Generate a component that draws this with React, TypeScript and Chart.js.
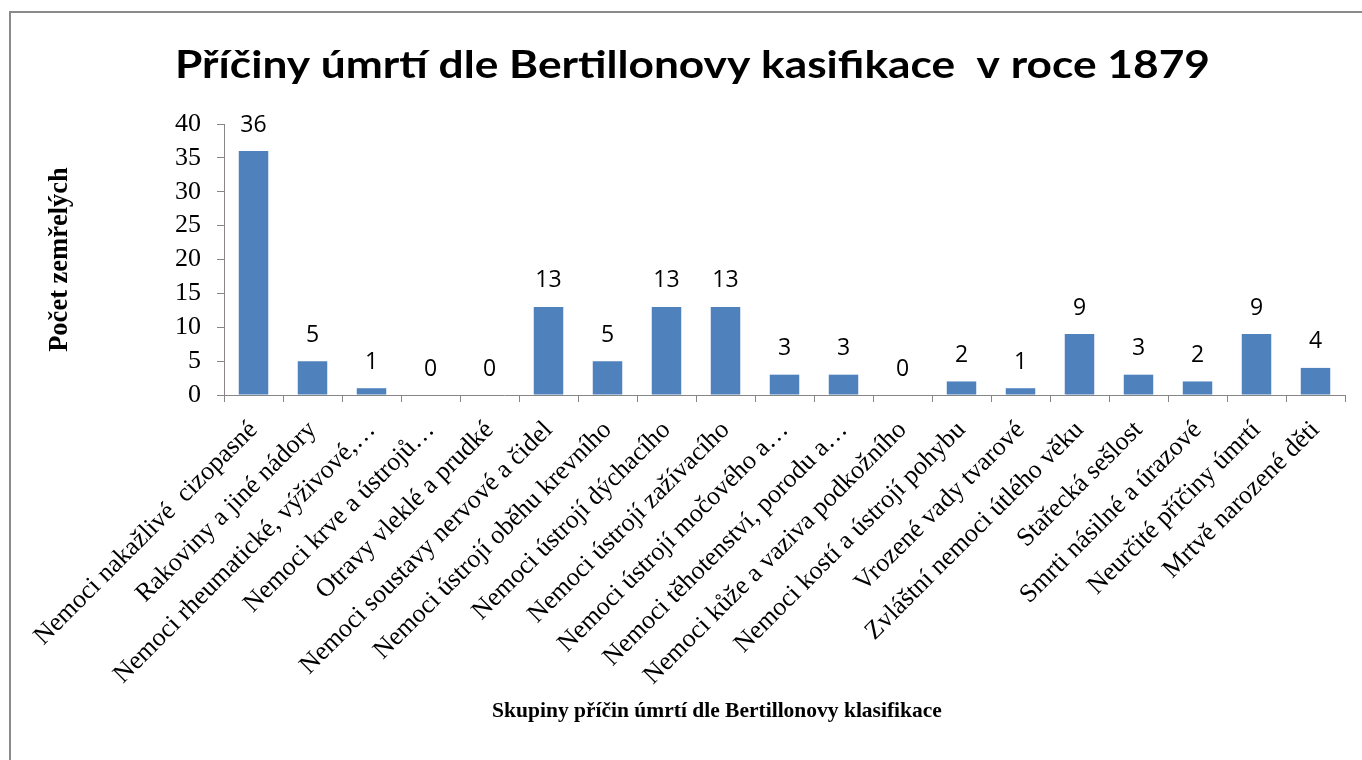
import React, { useEffect, useRef } from "react";
import { Chart, registerables } from "chart.js";

Chart.register(...registerables);

const chartTitle = "Příčiny úmrtí dle Bertillonovy kasifikace  v roce 1879";
const yAxisTitle = "Počet zemřelých";
const xAxisTitle = "Skupiny příčin úmrtí dle Bertillonovy klasifikace";

const categories = [
  "Nemoci nakažlivé  cizopasné",
  "Rakoviny a jiné nádory",
  "Nemoci rheumatické, výživové,…",
  "Nemoci krve a ústrojů…",
  "Otravy vleklé a prudké",
  "Nemoci soustavy nervové a čidel",
  "Nemoci ústrojí oběhu krevního",
  "Nemoci ústrojí dýchacího",
  "Nemoci ústrojí zažívacího",
  "Nemoci ústrojí močového a…",
  "Nemoci těhotenství, porodu a…",
  "Nemoci kůže a vaziva podkožního",
  "Nemoci kostí a ústrojí pohybu",
  "Vrozené vady tvarové",
  "Zvláštní nemoci útlého věku",
  "Stařecká sešlost",
  "Smrti násilné a úrazové",
  "Neurčité příčiny úmrtí",
  "Mrtvě narozené děti",
];

const deaths = [36, 5, 1, 0, 0, 13, 5, 13, 13, 3, 3, 0, 2, 1, 9, 3, 2, 9, 4];

const yMin = 0;
const yMax = 40;
const yStep = 5;

const decorPlugin = {
  id: "decor",
  beforeDraw(chart: any) {
    const ctx = chart.ctx;
    ctx.save();
    ctx.fillStyle = "#ffffff";
    ctx.fillRect(0, 0, chart.width, chart.height);
    ctx.strokeStyle = "#8a8a8a";
    ctx.lineWidth = 2;
    ctx.strokeRect(10, 12, 2000, 2000);
    ctx.restore();
  },
  afterDraw(chart: any) {
    const ctx = chart.ctx;
    const area = chart.chartArea;
    ctx.save();
    ctx.fillStyle = "#000000";
    // main title, stretched to the reference width
    ctx.font = "bold 38px Lato";
    ctx.textAlign = "left";
    ctx.textBaseline = "alphabetic";
    const w = ctx.measureText(chartTitle).width;
    const sx = 1035 / w;
    ctx.save();
    ctx.translate(175, 78);
    ctx.scale(sx, 1);
    ctx.fillText(chartTitle, 0, 0);
    ctx.restore();
    // x axis title
    ctx.textAlign = "center";
    ctx.font = "bold 21.5px 'Liberation Serif'";
    ctx.fillText(xAxisTitle, 717, 717);
    // y axis title
    ctx.font = "bold 26.5px 'Liberation Serif'";
    ctx.translate(60, (area.top + area.bottom) / 2);
    ctx.rotate(-Math.PI / 2);
    ctx.textBaseline = "middle";
    ctx.fillText(yAxisTitle, 0, 0);
    ctx.restore();
  },
  afterDatasetsDraw(chart: any) {
    const ctx = chart.ctx;
    const meta = chart.getDatasetMeta(0);
    const data = chart.data.datasets[0].data;
    ctx.save();
    ctx.fillStyle = "#000000";
    ctx.font = "23px 'Open Sans'";
    ctx.textAlign = "center";
    ctx.textBaseline = "middle";
    meta.data.forEach((bar: any, i: number) => {
      ctx.fillText(String(data[i]), bar.x, bar.y - 26);
    });
    ctx.restore();
  },
};

export default function App() {
  const ref = useRef<HTMLCanvasElement | null>(null);

  useEffect(() => {
    if (!ref.current) return;
    const chart = new Chart(ref.current, {
      type: "bar",
      data: {
        labels: categories,
        datasets: [
          {
            data: deaths,
            backgroundColor: "#4F81BD",
            borderWidth: 0,
            barPercentage: 0.5,
            categoryPercentage: 1,
          },
        ],
      },
      options: {
        animation: false,
        responsive: false,
        events: [],
        layout: { padding: { top: 124, left: 0, right: 17, bottom: 0 } },
        plugins: {
          legend: { display: false },
          title: { display: false },
          tooltip: { enabled: false },
        },
        scales: {
          x: {
            afterFit: (scale: any) => {
              scale.height = 365;
            },
            grid: {
              drawOnChartArea: false,
              drawTicks: true,
              tickLength: 7,
              color: "#868686",
              offset: true,
            },
            border: { color: "#868686", width: 1 },
            ticks: {
              autoSkip: false,
              maxRotation: 45,
              minRotation: 45,
              padding: 13,
              color: "#000000",
              font: { family: "'Liberation Serif'", size: 26 },
            },
          },
          y: {
            min: yMin,
            max: yMax,
            afterFit: (scale: any) => {
              scale.width = 224;
            },
            grid: {
              drawOnChartArea: false,
              drawTicks: true,
              tickLength: 7,
              color: "#868686",
            },
            border: { color: "#868686", width: 1 },
            ticks: {
              autoSkip: false,
              stepSize: yStep,
              padding: 16,
              color: "#000000",
              font: { family: "'Liberation Serif'", size: 26 },
            },
          },
        },
      },
      plugins: [decorPlugin],
    });
    return () => chart.destroy();
  }, []);

  return (
    <div style={{ position: "fixed", left: 0, top: 0, width: 1362, height: 760, background: "#fff" }}>
      <canvas ref={ref} width={1362} height={760} style={{ display: "block" }} />
    </div>
  );
}
